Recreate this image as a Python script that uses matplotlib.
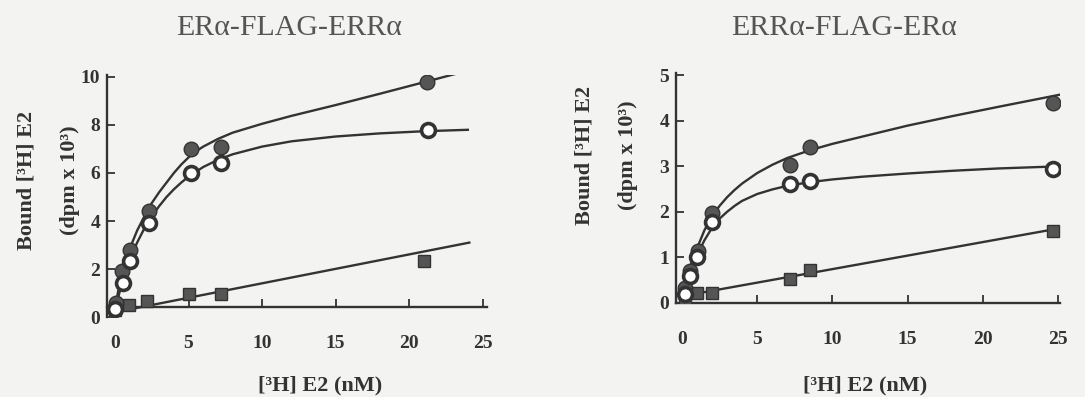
import numpy as np
import matplotlib
matplotlib.use("Agg")
import matplotlib.pyplot as plt

# ---- data ----
# left panel: ER-FLAG-ERR
l_fill_x = [0.05, 0.5, 1.0, 2.3, 5.2, 7.2, 21.2]
l_fill_y = [0.6, 1.9, 2.8, 4.4, 7.0, 7.1, 9.8]
l_open_x = [0.0, 0.55, 1.0, 2.3, 5.2, 7.2, 21.3]
l_open_y = [0.35, 1.4, 2.35, 3.9, 6.0, 6.4, 7.8]
l_sq_x = [0.0, 0.95, 2.2, 5.0, 7.2, 21.0]
l_sq_y = [0.3, 0.5, 0.65, 0.95, 0.95, 2.35]

l_fit_fill_x = [0, 0.25, 0.5, 0.75, 1, 1.5, 2, 2.5, 3, 3.5, 4, 4.5, 5, 5.5, 6, 7, 8, 10, 12,
                15, 18, 21, 23.6]
l_fit_fill_y = [0.4, 1.2, 1.9, 2.4, 2.85, 3.6, 4.2, 4.75, 5.2, 5.6, 6.0, 6.35, 6.65, 6.9, 7.1,
                7.42, 7.68, 8.05, 8.38, 8.83, 9.3, 9.78, 10.2]
l_fit_open_x = [0, 0.25, 0.5, 0.75, 1, 1.5, 2, 2.5, 3, 3.5, 4, 4.5, 5, 6, 7, 8, 10, 12, 15, 18,
                21, 24]
l_fit_open_y = [0.3, 0.9, 1.5, 2.0, 2.4, 3.1, 3.7, 4.2, 4.62, 5.0, 5.32, 5.6, 5.85, 6.25, 6.55,
                6.78, 7.1, 7.32, 7.52, 7.65, 7.74, 7.8]
l_fit_sq_x = [0, 24.1]
l_fit_sq_y = [0.2, 3.1]

# right panel: ERR-FLAG-ER
r_fill_x = [0.2, 0.55, 1.05, 2.0, 7.2, 8.5, 24.7]
r_fill_y = [0.32, 0.71, 1.13, 1.97, 3.03, 3.42, 4.38]
r_open_x = [0.2, 0.55, 1.0, 2.0, 7.2, 8.5, 24.7]
r_open_y = [0.2, 0.6, 1.0, 1.77, 2.62, 2.68, 2.94]
r_sq_x = [0.2, 1.0, 2.0, 7.2, 8.5, 24.7]
r_sq_y = [0.05, 0.22, 0.22, 0.52, 0.72, 1.58]

r_fit_fill_x = [0, 0.25, 0.5, 0.75, 1, 1.5, 2, 2.5, 3, 3.5, 4, 5, 6, 7, 8.5, 10, 12, 15, 18,
                21, 25.3]
r_fit_fill_y = [0.15, 0.45, 0.75, 1.0, 1.2, 1.6, 1.9, 2.13, 2.32, 2.48, 2.62, 2.85, 3.03, 3.18,
                3.35, 3.49, 3.65, 3.89, 4.1, 4.3, 4.58]
r_fit_open_x = [0, 0.25, 0.5, 0.75, 1, 1.5, 2, 2.5, 3, 3.5, 4, 5, 6, 7, 8.5, 10, 12, 15, 18,
                21, 25.3]
r_fit_open_y = [0.15, 0.4, 0.65, 0.85, 1.05, 1.38, 1.65, 1.85, 2.0, 2.13, 2.24, 2.39, 2.49,
                2.57, 2.65, 2.71, 2.77, 2.84, 2.9, 2.95, 3.0]
r_fit_sq_x = [0, 25.3]
r_fit_sq_y = [0.15, 1.65]

x_ticks = [0, 5, 10, 15, 20, 25]
l_yticks = [0, 2, 4, 6, 8, 10]
r_yticks = [0, 1, 2, 3, 4, 5]

ink = "#333333"
bg = "#f3f3f1"
serif = ["Liberation Serif", "DejaVu Serif"]

fig = plt.figure(figsize=(10.85, 3.97), dpi=100, facecolor=bg)


def panel(ax, fits, pts, xlim, ylim, yticks, spine_y):
    ax.set_facecolor(bg)
    for fx, fy in fits:
        ax.plot(fx, fy, color=ink, lw=1.7, zorder=2, solid_joinstyle="round")
    (fx_, fy_), (ox, oy), (sx, sy) = pts
    ax.plot(sx, sy, ls="none", marker="s", ms=8.5, mfc="#555555", mec=ink, mew=1, zorder=3)
    ax.plot(fx_, fy_, ls="none", marker="o", ms=10.5, mfc="#555555", mec=ink, mew=1, zorder=4)
    ax.plot(ox, oy, ls="none", marker="o", ms=10, mfc="white", mec=ink, mew=2.6, zorder=4)
    ax.set_xlim(*xlim)
    ax.set_ylim(*ylim)
    ax.set_xticks(x_ticks)
    ax.set_yticks(yticks)
    for s in ("top", "right"):
        ax.spines[s].set_visible(False)
    for s in ("left", "bottom"):
        ax.spines[s].set_color(ink)
        ax.spines[s].set_linewidth(1.7)
    ax.spines["bottom"].set_position(("data", spine_y))
    ax.tick_params(axis="both", direction="in", length=6, width=1.3, color=ink)
    ax.tick_params(axis="x", pad=20)
    ax.tick_params(axis="y", pad=5)
    for lab in ax.get_xticklabels() + ax.get_yticklabels():
        lab.set_family(serif)
        lab.set_fontweight("bold")
        lab.set_fontsize(14)
        lab.set_color(ink)


ax1 = fig.add_axes([0.0986, 0.2015, 0.3502, 0.6106])
panel(ax1,
      [(l_fit_fill_x, l_fit_fill_y), (l_fit_open_x, l_fit_open_y), (l_fit_sq_x, l_fit_sq_y)],
      [(l_fill_x, l_fill_y), (l_open_x, l_open_y), (l_sq_x, l_sq_y)],
      (-0.55, 25.3), (0, 10.1), l_yticks, 0.42)

ax2 = fig.add_axes([0.623, 0.2368, 0.3535, 0.58])
panel(ax2,
      [(r_fit_fill_x, r_fit_fill_y), (r_fit_open_x, r_fit_open_y), (r_fit_sq_x, r_fit_sq_y)],
      [(r_fill_x, r_fill_y), (r_open_x, r_open_y), (r_sq_x, r_sq_y)],
      (-0.4, 25.1), (0, 5.05), r_yticks, 0.0)

W, H = 1085, 397


def ftext(x, y, s, **kw):
    fig.text(x / W, 1 - y / H, s, ha="center", va="center", family=serif, **kw)


ftext(289, 28, "ERα-FLAG-ERRα", fontsize=21.5, color="#555555")
ftext(844, 28, "ERRα-FLAG-ERα", fontsize=21.5, color="#555555")

lab = dict(fontsize=16, fontweight="bold", color=ink)
ftext(27, 180, "Bound [³H] E2", rotation=90, **lab)
ftext(70, 180, "(dpm x 10³)", rotation=90, **lab)
ftext(585, 155, "Bound [³H] E2", rotation=90, **lab)
ftext(628, 155, "(dpm x 10³)", rotation=90, **lab)
ftext(320, 385, "[³H] E2 (nM)", **lab)
ftext(865, 385, "[³H] E2 (nM)", **lab)

fig.savefig("out.png", dpi=100, facecolor=bg)
